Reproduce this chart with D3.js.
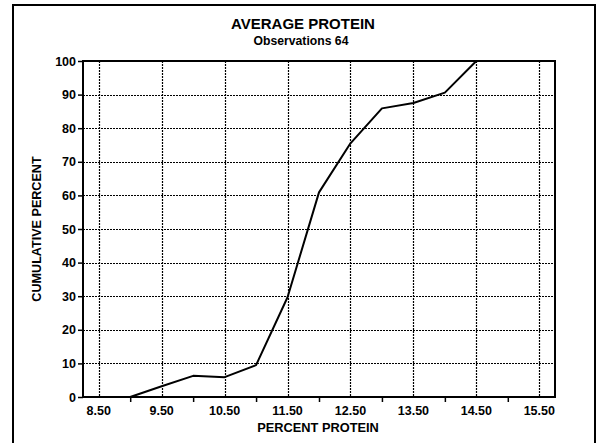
<!DOCTYPE html>
<html>
<head>
<meta charset="utf-8">
<script src="https://cdn.jsdelivr.net/npm/d3@7"></script>
<style>
    body { margin: 0; background: #fff; }
    svg text { font-family: "Liberation Sans", Arial, sans-serif; font-weight: bold; fill: #000; }
</style>
</head>
<body>
<svg id="chart" width="597" height="443"></svg>
<script>
// cumulative distribution
var protein = [9.0, 9.5, 10.0, 10.5, 11.0, 11.5, 12.0, 12.5, 13.0, 13.5, 14.0, 14.5];
var cumPercent = [0, 3.2, 6.3, 5.9, 9.5, 29.7, 60.9, 75.5, 85.9, 87.5, 90.6, 100];
var xTickLabels = [8.5, 9.5, 10.5, 11.5, 12.5, 13.5, 14.5, 15.5];
var xMinorTicks = [9, 10, 11, 12, 13, 14, 15];
var yTicks = [0, 10, 20, 30, 40, 50, 60, 70, 80, 90, 100];

var svg = d3.select("#chart");

// plot area edges ("top" is taken by window.top, so use other names)
var plotL = 83, plotR = 555, plotT = 61, plotB = 397;

var x = d3.scaleLinear().domain([8.25, 15.75]).range([plotL, plotR]);
var y = d3.scaleLinear().domain([0, 100]).range([plotB, plotT]);

// outer frame (cropped at the bottom)
svg.append("path")
    .attr("d", "M13,443 L13,5 L595,5 L595,443")
    .attr("fill", "none")
    .attr("stroke", "#000")
    .attr("stroke-width", 2);

// titles
svg.append("text")
    .attr("x", 303).attr("y", 29)
    .attr("text-anchor", "middle")
    .attr("font-size", 15)
    .text("AVERAGE PROTEIN");
svg.append("text")
    .attr("x", 301).attr("y", 45)
    .attr("text-anchor", "middle")
    .attr("font-size", 12.2)
    .text("Observations 64");

// grid
var grid = svg.append("g")
    .attr("stroke", "#000")
    .attr("stroke-width", 1.2)
    .attr("stroke-dasharray", "2,1");

grid.selectAll(".gy")
    .data(yTicks.filter(d => d > 0 && d < 100))
    .enter().append("line")
    .attr("x1", plotL).attr("x2", plotR)
    .attr("y1", d => Math.round(y(d)) + 0.5).attr("y2", d => Math.round(y(d)) + 0.5);

grid.selectAll(".gx")
    .data(xTickLabels)
    .enter().append("line")
    .attr("y1", plotT).attr("y2", plotB)
    .attr("x1", d => Math.round(x(d)) + 0.5).attr("x2", d => Math.round(x(d)) + 0.5);

// y axis
var yAxis = d3.axisLeft(y)
    .tickValues(yTicks)
    .tickSize(5)
    .tickPadding(2)
    .tickFormat(d3.format("d"));
var gy = svg.append("g")
    .attr("transform", "translate(" + plotL + ",0)")
    .call(yAxis);
gy.select(".domain").remove();
gy.selectAll("line").attr("stroke", "#000").attr("stroke-width", 1.5);
gy.selectAll("text")
    .attr("font-size", 12.5)
    .style("font-family", "'Liberation Sans', Arial, sans-serif")
    .style("font-weight", "bold");

// x axis: minor ticks at whole numbers, labels at halves
var xAxis = d3.axisBottom(x)
    .tickValues(xMinorTicks)
    .tickSize(5)
    .tickFormat("");
var gx = svg.append("g")
    .attr("transform", "translate(0," + plotB + ")")
    .call(xAxis);
gx.select(".domain").remove();
gx.selectAll("line").attr("stroke", "#000").attr("stroke-width", 1.5);

svg.append("g")
    .selectAll("text")
    .data(xTickLabels)
    .enter().append("text")
    .attr("x", d => x(d))
    .attr("y", plotB + 18)
    .attr("text-anchor", "middle")
    .attr("font-size", 12.5)
    .text(d => d3.format(".2f")(d));

// plot frame
svg.append("rect")
    .attr("x", plotL).attr("y", plotT)
    .attr("width", plotR - plotL).attr("height", plotB - plotT)
    .attr("fill", "none")
    .attr("stroke", "#000")
    .attr("stroke-width", 2);

// axis titles
svg.append("text")
    .attr("x", 318).attr("y", 432)
    .attr("text-anchor", "middle")
    .attr("font-size", 12.8)
    .text("PERCENT PROTEIN");
svg.append("text")
    .attr("transform", "translate(41,229) rotate(-90)")
    .attr("text-anchor", "middle")
    .attr("font-size", 12.6)
    .text("CUMULATIVE PERCENT");

// data line
var line = d3.line()
    .x((d, i) => x(protein[i]))
    .y(d => y(d));
svg.append("path")
    .datum(cumPercent)
    .attr("d", line)
    .attr("fill", "none")
    .attr("stroke", "#000")
    .attr("stroke-width", 2)
    .attr("stroke-linejoin", "round");
</script>
</body>
</html>
